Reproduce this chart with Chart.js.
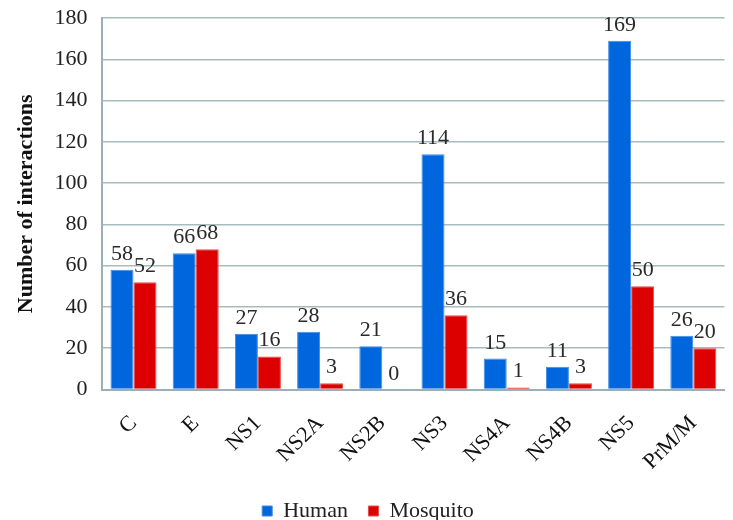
<!DOCTYPE html>
<html>
<head>
<meta charset="utf-8">
<script src="https://cdn.jsdelivr.net/npm/chart.js@4/dist/chart.umd.min.js"></script>
<style>
html,body{margin:0;padding:0;background:#fff;}
#wrap{width:733px;height:520px;}
</style>
</head>
<body>
<div id="wrap"><canvas id="c" width="733" height="520"></canvas></div>
<script>
const categories = ["C","E","NS1","NS2A","NS2B","NS3","NS4A","NS4B","NS5","PrM/M"];
const humanValues = [58,66,27,28,21,114,15,11,169,26];
const mosquitoValues = [52,68,16,3,0,36,1,3,50,20];
const yTicks = [0,20,40,60,80,100,120,140,160,180];

const FONT = "'Liberation Serif','Times New Roman',serif";

const valueLabels = {
  id:'valueLabels',
  afterDatasetsDraw(chart){
    const ctx = chart.ctx;
    ctx.save();
    ctx.font = "22px " + FONT;
    ctx.fillStyle = "#2a2a2a";
    ctx.textAlign = "center";
    ctx.textBaseline = "alphabetic";
    chart.data.datasets.forEach((ds,i)=>{
      const meta = chart.getDatasetMeta(i);
      meta.data.forEach((bar,j)=>{
        ctx.fillText(String(ds.data[j]), bar.x, bar.y - 10);
      });
    });
    ctx.restore();
  }
};

new Chart(document.getElementById('c'),{
  type:'bar',
  data:{
    labels:categories,
    datasets:[
      {label:'Human',data:humanValues,backgroundColor:'#0066DD',borderColor:'#3F8AE6',borderWidth:1},
      {label:'Mosquito',data:mosquitoValues,backgroundColor:'#DD0000',borderColor:'#E84A4A',borderWidth:1}
    ]
  },
  options:{
    responsive:false,
    animation:false,
    layout:{padding:{top:0,right:0,left:3,bottom:-12}},
    datasets:{bar:{categoryPercentage:0.74,barPercentage:1.0}},
    plugins:{
      legend:{
        position:'bottom',
        labels:{
          font:{family:FONT,size:22},color:'#222',boxWidth:10,boxHeight:10,padding:4,
          generateLabels(chart){
            const items = Chart.defaults.plugins.legend.labels.generateLabels(chart);
            items.forEach((it,i)=>{ if(i < items.length-1) it.text = it.text + '   '; });
            return items;
          }
        }
      },
      tooltip:{enabled:false}
    },
    scales:{
      x:{
        grid:{display:false,drawTicks:false},
        border:{color:'#9AB0B4',width:2},
        ticks:{font:{family:FONT,size:22},color:'#111',minRotation:45,maxRotation:45,padding:21}
      },
      y:{
        min:0,max:180,
        afterBuildTicks(axis){axis.ticks = yTicks.map(v=>({value:v}));},
        afterFit(scale){ scale.paddingTop = 18; scale.paddingBottom = 14; },
        grid:{color:'#A8BCC0',lineWidth:1.5,drawTicks:false},
        border:{color:'#9AB0B4',width:2},
        ticks:{font:{family:FONT,size:22},color:'#222',padding:15},
        title:{display:true,text:'Number of interactions',font:{family:FONT,size:22,weight:'bold'},color:'#111',padding:{top:10,bottom:0}}
      }
    }
  },
  plugins:[valueLabels]
});
</script>
</body>
</html>
